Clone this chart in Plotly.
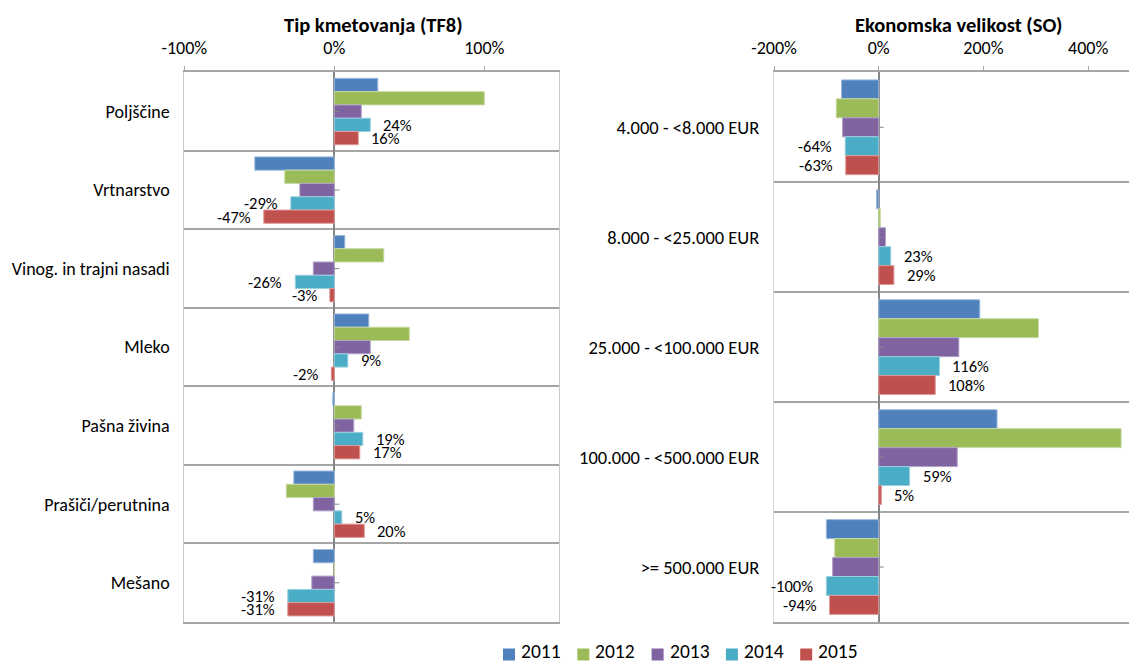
import plotly.graph_objects as go

# Categories
tip_kmetovanja = ["Poljščine", "Vrtnarstvo", "Vinog. in trajni nasadi", "Mleko",
                  "Pašna živina", "Prašiči/perutnina", "Mešano"]
ekon_velikost = ["4.000 - <8.000 EUR", "8.000 - <25.000 EUR", "25.000 - <100.000 EUR",
                 "100.000 - <500.000 EUR", ">= 500.000 EUR"]
years = ["2011", "2012", "2013", "2014", "2015"]

# Change in % by farm type (TF8), one list per year
tf_2011 = [29, -53, 7, 23, -1, -27, -14]
tf_2012 = [100, -33, 33, 50, 18, -32, 0]
tf_2013 = [18, -23, -14, 24, 13, -14, -15]
tf_2014 = [24, -29, -26, 9, 19, 5, -31]
tf_2015 = [16, -47, -3, -2, 17, 20, -31]

# Change in % by economic size class (SO), one list per year
so_2011 = [-71, -4, 193, 226, -100]
so_2012 = [-81, 3, 305, 463, -84]
so_2013 = [-69, 13, 153, 150, -88]
so_2014 = [-64, 23, 116, 59, -100]
so_2015 = [-63, 29, 108, 5, -94]

# Axis ticks
tf_ticks = [-100, 0, 100]
so_ticks = [-200, 0, 200, 400]

# Years whose bars carry value labels
labelled_years = ["2014", "2015"]

colors = ["#4F81BD", "#9BBB59", "#8064A2", "#4BACC6", "#C0504D"]
edges = ["#9DB9DC", "#C6D9A2", "#B2A3C8", "#99D0E0", "#DE9A98"]

FONT = "Carlito, Lato, sans-serif"
W, H = 1129, 664
PLOT_TOP, PLOT_BOTTOM = 72.3, 622.0
axis_grey = "#A6A6A6"

panels = [
    dict(cats=tip_kmetovanja, series=[tf_2011, tf_2012, tf_2013, tf_2014, tf_2015],
         xa="x", ya="y", group=0.846),
    dict(cats=ekon_velikost, series=[so_2011, so_2012, so_2013, so_2014, so_2015],
         xa="x2", ya="y2", group=0.862),
]

fig = go.Figure()
annotations = []
shapes = []
for p in panels:
    n = len(p["cats"])
    G = p["group"]
    w = G / len(years)
    for i, (yr, vals) in enumerate(zip(years, p["series"])):
        off = -G / 2 + i * w
        fig.add_trace(go.Bar(
            y=list(range(n)), x=vals, orientation="h",
            width=w, offset=off,
            marker=dict(color=colors[i], line=dict(color=edges[i], width=1)),
            name=yr, showlegend=False,
            xaxis=p["xa"], yaxis=p["ya"],
        ))
        if yr in labelled_years:
            for k, v in enumerate(vals):
                annotations.append(dict(
                    x=v, y=k + off + w / 2, xref=p["xa"], yref=p["ya"],
                    text=f"{v}%", showarrow=False,
                    xanchor="left" if v >= 0 else "right", yanchor="middle",
                    xshift=11 if v >= 0 else -11,
                    font=dict(family=FONT, size=16.5, color="#000000"),
                ))
    # short category tick marks on the zero axis
    for k in range(n):
        shapes.append(dict(type="line", xref=p["xa"], yref=p["ya"],
                           xsizemode="pixel", xanchor=0, x0=0, x1=5, y0=k, y1=k,
                           line=dict(color="#868686", width=1)))


def xaxis_cfg(domain, rng, ticks, anchor):
    return dict(domain=domain, range=rng, side="top", tickvals=ticks,
                ticktext=[f"{t}%" for t in ticks],
                ticks="outside", ticklen=5, tickcolor=axis_grey, tickwidth=1,
                ticklabelstandoff=4, automargin=False,
                showline=True, linecolor=axis_grey, linewidth=1.5, mirror=True,
                showgrid=False, zeroline=True, zerolinecolor="#868686", zerolinewidth=1.5,
                tickfont=dict(family=FONT, size=18, color="#000000"), anchor=anchor,
                fixedrange=True)


def yaxis_cfg(cats, anchor, linecolor, size):
    n = len(cats)
    return dict(domain=[1 - PLOT_BOTTOM / H, 1 - PLOT_TOP / H], range=[n - 0.5, -0.5],
                tickvals=list(range(n)), ticktext=cats, ticks="", ticklabelstandoff=10,
                showgrid=False, automargin=False,
                minor=dict(tickvals=[k + 0.5 for k in range(n - 1)], showgrid=True,
                           gridcolor=axis_grey, gridwidth=1.5, ticks=""),
                showline=True, linecolor=linecolor, linewidth=1, mirror=True,
                zeroline=False, tickfont=dict(family=FONT, size=size, color="#000000"),
                anchor=anchor, fixedrange=True)


# Panel titles
annotations += [
    dict(x=373.5 / W, y=1 - 25 / H, xref="paper", yref="paper", showarrow=False,
         xanchor="center", yanchor="middle",
         text="<b>Tip kmetovanja (TF8)</b>", font=dict(family=FONT, size=20.5, color="#000000")),
    dict(x=958 / W, y=1 - 25 / H, xref="paper", yref="paper", showarrow=False,
         xanchor="center", yanchor="middle",
         text="<b>Ekonomska velikost (SO)</b>", font=dict(family=FONT, size=20.5, color="#000000")),
]

# Legend row along the bottom: colour swatch + year
LEG_X0, LEG_STEP, LEG_Y, SW = 503, 74.3, 654.5, 12
for i, yr in enumerate(years):
    x0 = LEG_X0 + i * LEG_STEP
    shapes.append(dict(type="rect", xref="paper", yref="paper",
                       x0=x0 / W, x1=(x0 + SW) / W,
                       y0=1 - (LEG_Y + SW / 2) / H, y1=1 - (LEG_Y - SW / 2) / H,
                       fillcolor=colors[i], line=dict(width=0)))
    annotations.append(dict(x=(x0 + SW + 5) / W, y=0, xref="paper", yref="paper",
                            text=yr, showarrow=False, xanchor="left", yanchor="bottom",
                            borderpad=0,
                            font=dict(family=FONT, size=19.5, color="#000000")))

fig.update_layout(
    width=W, height=H, margin=dict(l=0, r=0, t=0, b=0),
    paper_bgcolor="white", plot_bgcolor="white",
    barmode="overlay", showlegend=False,
    xaxis=xaxis_cfg([184.3 / W, 559.3 / W], [-100, 150], tf_ticks, "y"),
    yaxis=yaxis_cfg(tip_kmetovanja, "x", "#C8C8C8", 18),
    xaxis2=xaxis_cfg([774 / W, 1.0], [-200, 478], so_ticks, "y2"),
    yaxis2=yaxis_cfg(ekon_velikost, "x2", "#D9D9D9", 18.5),
    annotations=annotations,
    shapes=shapes,
    font=dict(family=FONT),
)

fig.write_html("out.html")
